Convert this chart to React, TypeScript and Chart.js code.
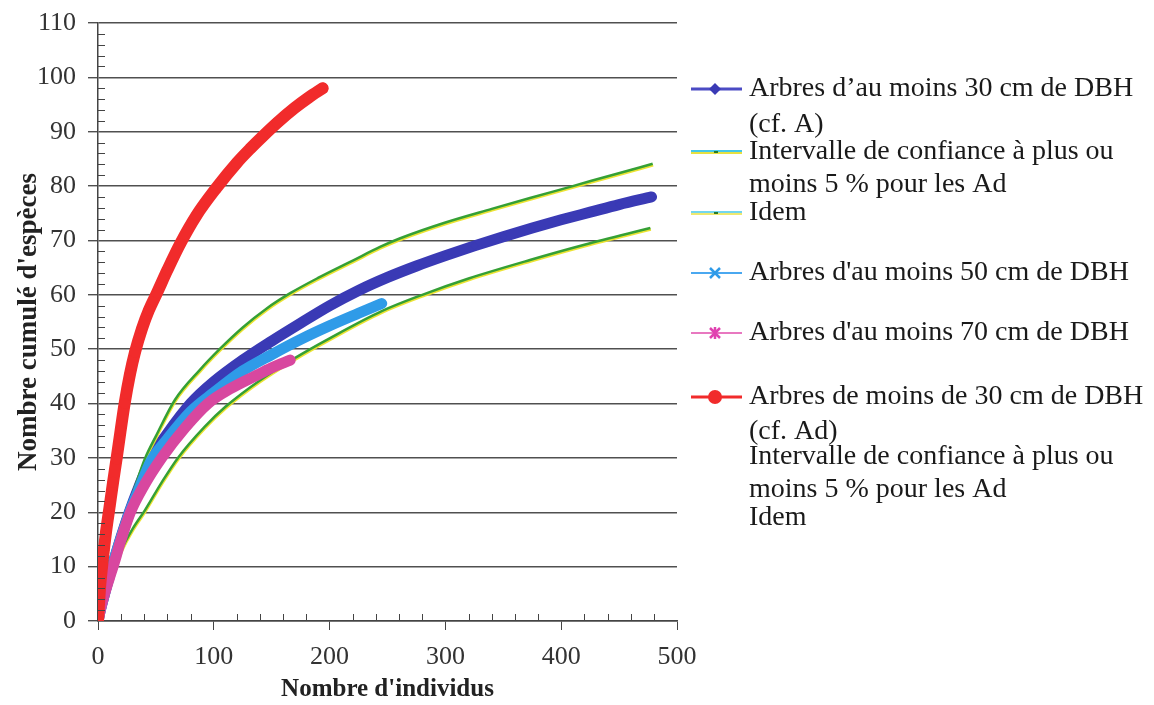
import React, { useEffect, useRef } from "react";
import { Chart, registerables } from "chart.js";

Chart.register(...registerables);

// ---- Data ----
const blueX = [0, 2, 5, 10, 15, 20, 27, 35, 46, 60, 80, 100, 125, 150, 175, 200, 225, 250, 275, 300, 325, 350, 375, 400, 425, 450, 478];
const blueY = [0, 2, 4.5, 8.5, 12, 15.5, 20, 24.5, 30, 34.5, 40, 44, 48, 51.5, 54.8, 58, 60.8, 63.2, 65.3, 67.2, 69, 70.7, 72.3, 73.8, 75.2, 76.6, 78];

const upperX = [0, 5, 10, 15, 20, 25, 32, 40.6, 50, 66.5, 88, 105, 125, 145.7, 166, 190, 220, 243.5, 261, 300, 340, 373, 410, 445, 479];
const upperY = [0, 5, 9.5, 13.5, 17, 20, 24.7, 29.9, 34, 40.7, 46.2, 50, 54, 57.5, 60.3, 63.1, 66.3, 68.8, 70.4, 73.3, 75.8, 77.8, 80, 82.1, 84.1];

const lowerX = [0, 5, 10, 20, 30, 40.6, 55, 69, 92, 110, 140, 171, 200, 245, 280, 320, 373, 420, 477];
const lowerY = [0, 4, 7.5, 13, 17, 20.4, 25.5, 30, 35.7, 39.4, 44.3, 48.5, 52, 57, 60, 63, 66.4, 69.2, 72.3];

const lightX = [0, 2, 5, 10, 15, 20, 27, 35, 46, 60, 80, 100, 125, 150, 175, 200, 225, 245];
const lightY = [0, 2, 4.5, 8.3, 12, 15.3, 19.8, 24, 29.5, 33.5, 38.5, 42, 46, 49, 51.8, 54.3, 56.6, 58.4];

const pinkX = [0, 2, 5, 10, 13, 20, 28, 40, 55, 75, 95, 115, 135, 150, 166];
const pinkY = [0, 2, 4.5, 8, 10, 15, 20, 25, 30, 35.5, 40, 42.8, 45, 46.6, 48];

const redX = [0, 1, 2, 3.5, 5, 7, 10, 13, 16, 19.5, 23, 27.5, 32, 38, 44, 51, 60, 71, 85, 102, 120, 132, 142, 155, 170, 182, 194];
const redY = [0, 3.6, 6.8, 10, 13, 16.5, 21, 25.5, 29.8, 35, 40, 45.3, 49.5, 53.8, 57.2, 60.4, 64.6, 69.4, 74.6, 79.6, 84.3, 87, 89.1, 91.7, 94.4, 96.3, 98];

const xTickValues = [0, 100, 200, 300, 400, 500];
const yTickValues = [0, 10, 20, 30, 40, 50, 60, 70, 80, 90, 100, 110];

const xTitle = "Nombre d'individus";
const yTitle = "Nombre cumulé d'espèces";

const legendTexts = [
  ["Arbres d’au moins 30 cm de DBH", "(cf. A)"],
  ["Intervalle de confiance à plus ou", "moins 5 % pour les Ad"],
  ["Idem"],
  ["Arbres d'au moins 50 cm de DBH"],
  ["Arbres d'au moins 70 cm de DBH"],
  ["Arbres de moins de 30 cm de DBH", "(cf. Ad)"],
  ["Intervalle de confiance à plus ou", "moins 5 % pour les Ad"],
  ["Idem"],
];

const pts = (xs: number[], ys: number[]) => xs.map((x, i) => ({ x, y: ys[i] }));

const SERIF = "'Liberation Serif', 'Times New Roman', serif";

const BLUE = "#3a3ab5";
const LIGHT = "#2f9be8";
const PINK = "#d8479f";
const RED = "#f12b2b";
const GREEN = "#35a035";

function drawMarker(ctx: CanvasRenderingContext2D, kind: string, x: number, y: number, color: string) {
  ctx.save();
  ctx.fillStyle = color;
  ctx.strokeStyle = color;
  ctx.lineWidth = 2.5;
  if (kind === "diamond") {
    ctx.beginPath();
    ctx.moveTo(x, y - 6);
    ctx.lineTo(x + 6, y);
    ctx.lineTo(x, y + 6);
    ctx.lineTo(x - 6, y);
    ctx.closePath();
    ctx.fill();
  } else if (kind === "cross") {
    ctx.beginPath();
    ctx.moveTo(x - 5, y - 5);
    ctx.lineTo(x + 5, y + 5);
    ctx.moveTo(x + 5, y - 5);
    ctx.lineTo(x - 5, y + 5);
    ctx.stroke();
  } else if (kind === "star") {
    ctx.beginPath();
    ctx.moveTo(x - 5, y - 5);
    ctx.lineTo(x + 5, y + 5);
    ctx.moveTo(x + 5, y - 5);
    ctx.lineTo(x - 5, y + 5);
    ctx.moveTo(x, y - 6);
    ctx.lineTo(x, y + 6);
    ctx.stroke();
  } else if (kind === "circle") {
    ctx.beginPath();
    ctx.arc(x, y, 7, 0, Math.PI * 2);
    ctx.fill();
  } else if (kind === "dot") {
    ctx.fillStyle = "#2a7a2a";
    ctx.fillRect(x - 2, y - 1, 4, 2);
  }
  ctx.restore();
}

// yellow fringe under the confidence-interval lines (as in the scanned original)
const fringePlugin = {
  id: "fringe",
  beforeDatasetDraw(chart: any, args: any) {
    const ds = chart.data.datasets[args.index];
    if (ds && ds.isCI) {
      const ctx = chart.ctx;
      ctx.save();
      ctx.shadowColor = "rgba(235, 225, 40, 0.95)";
      ctx.shadowOffsetX = 0.5;
      ctx.shadowOffsetY = 1.5;
      ctx.shadowBlur = 0;
    }
  },
  afterDatasetDraw(chart: any, args: any) {
    const ds = chart.data.datasets[args.index];
    if (ds && ds.isCI) chart.ctx.restore();
  },
};

const decorPlugin = {
  id: "decor",
  afterDraw(chart: any) {
    const ctx: CanvasRenderingContext2D = chart.ctx;
    const xs = chart.scales.x;
    const ys = chart.scales.y;
    const left = chart.chartArea.left;
    const bottom = chart.chartArea.bottom;
    ctx.save();
    // minor ticks
    ctx.strokeStyle = "#444";
    ctx.lineWidth = 1;
    for (let v = 2; v < 110; v += 2) {
      if (v % 10 === 0) continue;
      const py = Math.round(ys.getPixelForValue(v)) + 0.5;
      ctx.beginPath();
      ctx.moveTo(left, py);
      ctx.lineTo(left + 7, py);
      ctx.stroke();
    }
    for (let v = 20; v < 500; v += 20) {
      if (v % 100 === 0) continue;
      const px = Math.round(xs.getPixelForValue(v)) + 0.5;
      ctx.beginPath();
      ctx.moveTo(px, bottom);
      ctx.lineTo(px, bottom - 7);
      ctx.stroke();
    }
    // legend
    const lineStarts = [89, 152, 213, 273, 333, 397, 457, 518];
    const lineGap = [36, 33, 0, 0, 0, 35, 33, 0];
    const samples = [
      { kind: "diamond", color: BLUE, line: "#4b4bc4", w: 3 },
      { kind: "ci", color: GREEN },
      { kind: "ci2", color: GREEN },
      { kind: "cross", color: LIGHT, line: "#4aa8f0", w: 2 },
      { kind: "star", color: "#e040b0", line: "#e878c0", w: 2 },
      { kind: "circle", color: RED, line: RED, w: 3 },
      { kind: "none" },
      { kind: "none" },
    ];
    ctx.font = `28px ${SERIF}`;
    ctx.fillStyle = "#1a1a1a";
    ctx.textBaseline = "middle";
    ctx.textAlign = "left";
    legendTexts.forEach((lines, i) => {
      const y0 = lineStarts[i];
      lines.forEach((t, j) => {
        ctx.fillText(t, 749, y0 + j * lineGap[i]);
      });
      const s: any = samples[i];
      const x1 = 691;
      const x2 = 742;
      if (s.kind === "ci" || s.kind === "ci2") {
        ctx.save();
        ctx.lineWidth = s.kind === "ci" ? 2 : 1.5;
        ctx.strokeStyle = "#45c8e8";
        ctx.beginPath();
        ctx.moveTo(x1, y0 - 1);
        ctx.lineTo(x2, y0 - 1);
        ctx.stroke();
        ctx.strokeStyle = "#e8e040";
        ctx.beginPath();
        ctx.moveTo(x1, y0 + 1);
        ctx.lineTo(x2, y0 + 1);
        ctx.stroke();
        ctx.restore();
        drawMarker(ctx, "dot", 716, y0, GREEN);
      } else if (s.kind !== "none") {
        ctx.save();
        ctx.lineWidth = s.w;
        ctx.strokeStyle = s.line;
        ctx.beginPath();
        ctx.moveTo(x1, y0);
        ctx.lineTo(x2, y0);
        ctx.stroke();
        ctx.restore();
        drawMarker(ctx, s.kind, 715, y0, s.color);
      }
    });
    ctx.restore();
  },
};

export default function App() {
  const ref = useRef<HTMLCanvasElement | null>(null);
  useEffect(() => {
    if (!ref.current) return;
    const ciBase = {
      borderColor: GREEN,
      borderWidth: 2.5,
      pointRadius: 0,
      fill: false,
      cubicInterpolationMode: "monotone" as const,
      order: 4,
      isCI: true,
    };
    const band = (color: string, width: number, style: string, radius: number, order: number) => ({
      borderColor: color,
      backgroundColor: color,
      borderWidth: width,
      borderCapStyle: "round",
      borderJoinStyle: "round",
      pointStyle: style,
      pointRadius: radius,
      pointBorderWidth: 0,
      cubicInterpolationMode: "monotone",
      order,
    });
    const chart = new Chart(ref.current, {
      type: "line",
      data: {
        datasets: [
          { label: legendTexts[0].join(" "), data: pts(blueX, blueY), ...band(BLUE, 11, "rectRot", 4, 5) },
          { label: legendTexts[1].join(" "), data: pts(upperX, upperY), ...ciBase },
          { label: legendTexts[2].join(" "), data: pts(lowerX, lowerY), ...ciBase },
          { label: legendTexts[3].join(" "), data: pts(lightX, lightY), ...band(LIGHT, 11, "circle", 0, 3) },
          { label: legendTexts[4].join(" "), data: pts(pinkX, pinkY), ...band(PINK, 11, "circle", 0, 2) },
          { label: legendTexts[5].join(" "), data: pts(redX, redY), ...band(RED, 12, "circle", 5.5, 1) },
        ],
      },
      options: {
        animation: false,
        responsive: false,
        devicePixelRatio: 1,
        layout: { padding: { top: 23, right: 477, left: 8, bottom: 0 } },
        plugins: { legend: { display: false }, tooltip: { enabled: false } },
        scales: {
          x: {
            type: "linear",
            min: 0,
            max: 500,
            afterFit: (s: any) => {
              s.height = 84;
              s.paddingLeft = 0;
              s.paddingRight = 0;
            },
            afterBuildTicks: (s: any) => {
              s.ticks = xTickValues.map((v) => ({ value: v }));
            },
            ticks: {
              font: { family: SERIF, size: 26 },
              color: "#333",
              padding: 12,
              maxRotation: 0,
            },
            grid: {
              drawOnChartArea: false,
              drawTicks: true,
              tickLength: 9,
              color: "#444",
            },
            border: { display: true, color: "#444", width: 1.5 },
            title: {
              display: true,
              text: xTitle,
              font: { family: SERIF, size: 25, weight: "bold" },
              color: "#222",
              padding: { top: 0, bottom: 0 },
            },
          },
          y: {
            type: "linear",
            min: 0,
            max: 110,
            afterFit: (s: any) => {
              s.width = 90;
              s.paddingTop = 0;
              s.paddingBottom = 0;
            },
            afterBuildTicks: (s: any) => {
              s.ticks = yTickValues.map((v) => ({ value: v }));
            },
            ticks: {
              font: { family: SERIF, size: 26 },
              color: "#333",
              padding: 12,
            },
            grid: {
              color: "#505050",
              lineWidth: 1.4,
              tickLength: 10,
            },
            border: { display: true, color: "#444", width: 1.5 },
            title: {
              display: true,
              text: yTitle,
              font: { family: SERIF, size: 27, weight: "bold" },
              color: "#222",
              padding: { top: 5, bottom: 0 },
            },
          },
        },
      },
      plugins: [fringePlugin, decorPlugin],
    } as any);
    return () => chart.destroy();
  }, []);
  return (
    <div style={{ position: "absolute", left: 0, top: 0, width: 1154, height: 705, background: "#fff" }}>
      <canvas ref={ref} width={1154} height={705} />
    </div>
  );
}
